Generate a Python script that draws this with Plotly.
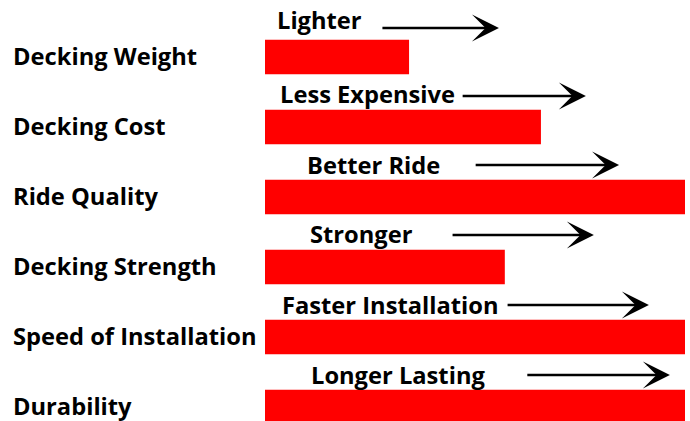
import plotly.graph_objects as go

categories = ["Decking Weight", "Decking Cost", "Ride Quality",
              "Decking Strength", "Speed of Installation", "Durability"]
values = [34.3, 65.7, 100, 57.1, 100, 100]
benefits = ["Lighter", "Less Expensive", "Better Ride",
            "Stronger", "Faster Installation", "Longer Lasting"]

# layout helpers for the benefit captions and arrows (axis units)
caption_x = [2.4, 3.1, 9.5, 10.3, 3.6, 10.5]
caption_dy = [-0.529, -0.471, -0.457, -0.471, -0.457, -0.457]
arrow_tail = [27.6, 46.7, 49.8, 44.3, 57.4, 62.1]
arrow_tip = [55.7, 76.4, 84.3, 78.3, 91.4, 96.4]
arrow_dy = [-0.414, -0.443, -0.457, -0.457, -0.457, -0.457]

pos = list(range(len(categories)))
font = dict(family="Open Sans", size=23.7, color="black", weight="bold")

fig = go.Figure(go.Bar(
    x=values, y=pos, orientation="h",
    marker=dict(color="#ff0000", line=dict(width=0)),
    width=0.49, hoverinfo="skip",
))

ann = []
for i, c in enumerate(categories):
    ann.append(dict(x=-0.605, xref="paper", y=i - 0.02, yref="y", text=c,
                    showarrow=False, xanchor="left", yanchor="middle", font=font))
    ann.append(dict(x=caption_x[i], xref="x", y=i + caption_dy[i], yref="y",
                    text=benefits[i], showarrow=False, xanchor="left",
                    yanchor="middle", font=font))
    ann.append(dict(x=arrow_tip[i], y=i + arrow_dy[i], xref="x", yref="y",
                    ax=arrow_tail[i], ay=i + arrow_dy[i], axref="x", ayref="y",
                    text="", showarrow=True, arrowhead=3, arrowsize=1.8,
                    arrowwidth=2.5, arrowcolor="black", standoff=0))

fig.update_layout(
    width=690, height=421,
    margin=dict(l=265, r=5, t=0, b=0),
    paper_bgcolor="white", plot_bgcolor="white",
    showlegend=False,
    xaxis=dict(range=[0, 100], visible=False, fixedrange=True),
    yaxis=dict(range=[5.2, -0.814], visible=False, fixedrange=True),
    annotations=ann,
)

fig.write_html(
    "out.html",
    config=dict(displayModeBar=False),
    post_script="document.body.style.margin='0';document.body.style.overflow='hidden';",
)
